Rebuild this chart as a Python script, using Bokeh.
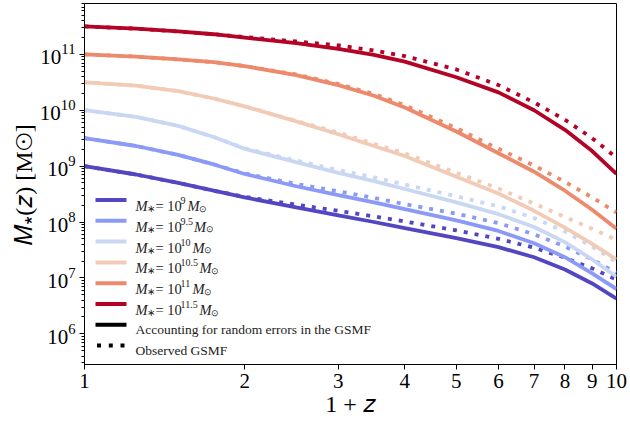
import numpy as np
from bokeh.plotting import figure
from bokeh.models import Label, BoxAnnotation, FixedTicker, PrintfTickFormatter, Range1d, LogTicker
from bokeh.embed import file_html
from bokeh.resources import INLINE

# ---------------- data (log10 of M*(z) in solar masses) ----------------
one_plus_z = [1, 1.25, 1.5, 1.75, 2, 2.5, 3, 3.5, 4, 5, 6, 7, 8, 9, 10]

mass_exponents = ["9", "9.5", "10", "10.5", "11", "11.5"]
colors = ["#5346c2", "#8b9af7", "#c9d7f3", "#f2cbb7", "#ec8a6b", "#b40426"]

# solid: accounting for random errors in the GSMF
logM_random_9    = [9.00, 8.85, 8.70, 8.56, 8.44, 8.26, 8.12, 8.00, 7.89, 7.71, 7.55, 7.37, 7.15, 6.90, 6.63]
logM_random_9p5  = [9.50, 9.36, 9.20, 9.03, 8.86, 8.64, 8.48, 8.35, 8.23, 8.03, 7.84, 7.62, 7.37, 7.08, 6.80]
logM_random_10   = [10.00, 9.88, 9.72, 9.52, 9.31, 9.07, 8.88, 8.73, 8.59, 8.35, 8.14, 7.91, 7.64, 7.33, 7.02]
logM_random_10p5 = [10.50, 10.44, 10.34, 10.21, 10.07, 9.80, 9.57, 9.36, 9.18, 8.81, 8.51, 8.20, 7.90, 7.61, 7.33]
logM_random_11   = [11.00, 10.96, 10.91, 10.86, 10.79, 10.63, 10.45, 10.26, 10.05, 9.62, 9.23, 8.90, 8.56, 8.22, 7.88]
logM_random_11p5 = [11.50, 11.46, 11.41, 11.36, 11.30, 11.20, 11.10, 10.99, 10.87, 10.59, 10.32, 10.00, 9.65, 9.27, 8.86]

# dotted: observed GSMF
logM_obs_9    = [9.00, 8.85, 8.70, 8.56, 8.45, 8.31, 8.20, 8.10, 8.01, 7.85, 7.70, 7.54, 7.36, 7.17, 6.97]
logM_obs_9p5  = [9.50, 9.36, 9.20, 9.03, 8.87, 8.68, 8.55, 8.43, 8.32, 8.15, 7.98, 7.78, 7.56, 7.33, 7.09]
logM_obs_10   = [10.00, 9.88, 9.72, 9.52, 9.32, 9.10, 8.93, 8.80, 8.67, 8.46, 8.28, 8.07, 7.83, 7.56, 7.28]
logM_obs_10p5 = [10.50, 10.44, 10.34, 10.21, 10.07, 9.81, 9.60, 9.40, 9.23, 8.88, 8.60, 8.33, 8.09, 7.88, 7.68]
logM_obs_11   = [11.00, 10.96, 10.91, 10.86, 10.79, 10.64, 10.47, 10.29, 10.09, 9.68, 9.31, 9.01, 8.72, 8.44, 8.17]
logM_obs_11p5 = [11.50, 11.46, 11.41, 11.36, 11.31, 11.23, 11.16, 11.07, 10.97, 10.73, 10.45, 10.14, 9.83, 9.50, 9.15]

solid_series = [logM_random_9, logM_random_9p5, logM_random_10, logM_random_10p5, logM_random_11, logM_random_11p5]
dotted_series = [logM_obs_9, logM_obs_9p5, logM_obs_10, logM_obs_10p5, logM_obs_11, logM_obs_11p5]

x_ticks = [1, 2, 3, 4, 5, 6, 7, 8, 9, 10]
x_label = "1 + \U0001D467"
y_label = "\U0001D440\u204E(\U0001D467) [M\u2299]"
legend_text_solid = "Accounting for random errors in the GSMF"
legend_text_dotted = "Observed GSMF"

# ---------------- figure ----------------
FONT = "Liberation Serif"
W, H = 630, 425
ML, MR, MT, MB = 84, 14, 3, 61

p = figure(width=W, height=H, x_axis_type="log", y_axis_type="log",
           x_range=Range1d(1, 10), y_range=Range1d(10 ** 5.45, 10 ** 11.91),
           output_backend="svg", toolbar_location=None,
           min_border_left=ML, min_border_right=MR, min_border_top=MT, min_border_bottom=MB)
p.xgrid.visible = False
p.ygrid.visible = False
p.outline_line_color = "black"
p.outline_line_width = 1
p.background_fill_color = "white"
p.border_fill_color = "white"

x = np.array(one_plus_z, dtype=float)
for col, ys, yd in zip(colors, solid_series, dotted_series):
    p.line(x, 10 ** np.array(ys), line_color=col, line_width=3.8)
    p.line(x, 10 ** np.array(yd), line_color=col, line_width=3.8, line_dash="4 7")

# axes
p.xaxis.ticker = FixedTicker(ticks=x_ticks, minor_ticks=[])
p.xaxis.formatter = PrintfTickFormatter(format="%d")
p.yaxis.ticker = LogTicker(num_minor_ticks=10)
for ax in (p.xaxis[0], p.yaxis[0]):
    ax.axis_line_color = "black"
    ax.major_tick_line_color = "black"
    ax.minor_tick_line_color = "black"
    ax.major_tick_in = 0
    ax.major_tick_out = 5
    ax.minor_tick_in = 0
    ax.minor_tick_out = 3
    ax.major_label_text_font = FONT
    ax.major_label_text_font_size = "21px"
    ax.major_label_text_color = "black"
    ax.axis_label_text_font = FONT
    ax.axis_label_text_font_size = "24px"
    ax.axis_label_text_font_style = "normal"
    ax.axis_label_text_color = "black"
p.xaxis.axis_label = x_label
p.yaxis.axis_label = y_label
p.xaxis.major_label_standoff = 4
p.yaxis.major_label_standoff = 4
p.xaxis.axis_label_standoff = 0
p.yaxis.axis_label_standoff = 0

# ---------------- legend helpers (screen units, relative to frame) ----------------
frame_bottom = H - MB  # canvas y of frame bottom


def fy(canvas_y):
    return frame_bottom - canvas_y


def fx(canvas_x):
    return canvas_x - ML


def add_text(cx, cy, text, size, style="normal", color="#222222"):
    p.add_layout(Label(x=fx(cx), y=fy(cy), x_units="screen", y_units="screen", text=text,
                       text_font=FONT, text_font_size=f"{size}px", text_font_style=style,
                       text_color=color, text_baseline="alphabetic", text_align="left"))


def add_box(x0, x1, yc, col, half=2):
    p.add_layout(BoxAnnotation(left=fx(x0), right=fx(x1), top=fy(yc - half), bottom=fy(yc + half),
                               left_units="screen", right_units="screen",
                               top_units="screen", bottom_units="screen",
                               fill_color=col, fill_alpha=1.0, line_alpha=0, level="overlay"))


y0, dy = 199.5, 20.8
exp_width = {"9": 5.5, "9.5": 12, "10": 10.5, "10.5": 17.5, "11": 10.5, "11.5": 17.5}
for i, (col, e) in enumerate(zip(colors, mass_exponents)):
    yc = y0 + i * dy
    add_box(95, 126, yc, col)
    add_text(135, yc + 6, "M", 14.5, "italic")
    add_text(146.5, yc + 8.5, "\u2217", 10)
    add_text(155, yc + 6, "= 10", 14.5)
    add_text(180, yc + 0.5, e, 10)
    mx = 180 + exp_width[e] + 1.5
    add_text(mx, yc + 6, "M", 14.5, "italic")
    add_text(mx + 11.5, yc + 8.5, "\u2299", 9)

yc = y0 + 6 * dy
add_box(95, 126, yc, "black")
add_text(135, yc + 5, legend_text_solid, 13.5)
yc = y0 + 7 * dy
for a in (96.5, 108.3, 120):
    add_box(a, a + 4, yc, "black")
add_text(135, yc + 5, legend_text_dotted, 13.5)

open("out.html", "w").write(file_html(p, INLINE))
